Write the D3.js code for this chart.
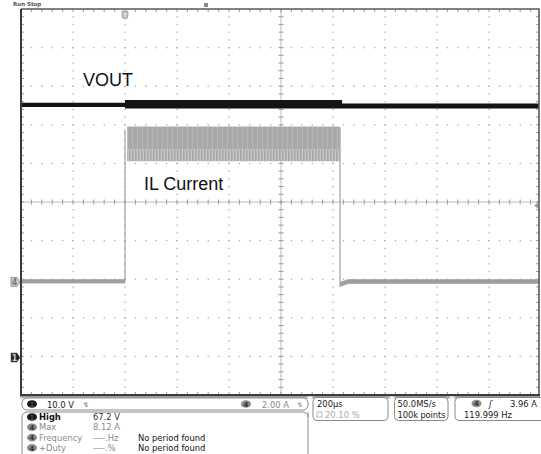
<!DOCTYPE html>
<html><head><meta charset="utf-8">
<script src="https://cdn.jsdelivr.net/npm/d3@7"></script>
<style>body{margin:0;background:#fff}svg{display:block}</style>
</head><body><svg id="c" width="541" height="454"></svg>
<script>
// ---------------- data ----------------
const timePerDivMs = 0.2;
const timeDomain = [-0.4, 1.6];          // ms, trigger at t = 0
const ch1VoltsPerDiv = 10.0, ch1PosDiv = -4.03;
const ch4AmpsPerDiv = 2.0,  ch4PosDiv = -2.07;
const triggerLevelA = 3.96;

const voutTimes = [-0.4, 0.0, 0.0, 0.835, 0.835, 1.6];
const voutHigh  = [66.0, 66.0, 66.7, 66.7, 65.8, 65.8];
const voutLow   = [64.9, 64.9, 64.5, 64.5, 64.5, 64.5];

const ilBaseTimes = [-0.4, 0.0];
const ilBaseHigh  = [0.12, 0.12];
const ilBaseLow   = [-0.06, -0.06];

const ilPulseTimes = [0.008, 0.826];
const ilPulseHigh  = [8.05, 8.05];
const ilPulseCore  = [6.85, 6.85];
const ilPulseLow   = [6.25, 6.25];

const ilTailTimes = [0.828, 0.835, 0.86, 1.6];
const ilTailHigh  = [-0.05, 0.02, 0.12, 0.12];
const ilTailLow   = [-0.25, -0.2, -0.08, -0.08];

const ilEdgeTimes = [0.0, 0.827];
const ilEdgeFrom  = [0.06, 8.0];
const ilEdgeTo    = [7.9, -0.22];

const measLabels   = ["High", "Max", "Frequency", "+Duty"];
const measChannels = [1, 4, 4, 4];
const measValues   = ["67.2 V", "8.12 A", "----.Hz", "----.%"];
const measNotes    = ["", "", "No period found", "No period found"];

// ---------------- layout ----------------
const svg = d3.select("#c");
const FL = 21, FR = 539, FT = 9, FB = 395;
const x = d3.scaleLinear().domain(timeDomain).range([21, 541]);
const yDiv = d3.scaleLinear().domain([-5, 5]).range([FB, FT]);
const yV = d3.scaleLinear()
  .domain([(-5 - ch1PosDiv) * ch1VoltsPerDiv, (5 - ch1PosDiv) * ch1VoltsPerDiv]).range([FB, FT]);
const yA = d3.scaleLinear()
  .domain([(-5 - ch4PosDiv) * ch4AmpsPerDiv, (5 - ch4PosDiv) * ch4AmpsPerDiv]).range([FB, FT]);

const defs = svg.append("defs");
defs.append("clipPath").attr("id", "clip").append("rect")
  .attr("x", FL).attr("y", FT).attr("width", FR - FL).attr("height", FB - FT);
const p1 = defs.append("pattern").attr("id", "rip").attr("patternUnits", "userSpaceOnUse")
  .attr("width", 3).attr("height", 6);
p1.append("rect").attr("width", 3).attr("height", 6).attr("fill", "#c6c6c6");
p1.append("rect").attr("width", 1.6).attr("height", 6).attr("fill", "#a8a8a8");
const p2 = defs.append("pattern").attr("id", "core").attr("patternUnits", "userSpaceOnUse")
  .attr("width", 5).attr("height", 6);
p2.append("rect").attr("width", 5).attr("height", 6).attr("fill", "#a9a9a9");
p2.append("rect").attr("x", 2).attr("width", 1).attr("height", 6).attr("fill", "#b6b6b6");

// ---------------- graticule ----------------
const g = svg.append("g");
const minorX = 52 / 5, minorY = (FB - FT) / 50;
const vLines = d3.range(1, 10).map(i => x(timeDomain[0] + i * timePerDivMs));
const hLines = d3.range(1, 10).map(j => yDiv(j - 5));
const dots = [];
vLines.forEach((vx, i) => { if (i !== 4) d3.range(1, 50).forEach(k => dots.push([vx, FT + k * minorY])); });
hLines.forEach((hy, j) => { if (j !== 4) d3.range(1, 50).forEach(k => dots.push([FL + k * minorX, hy])); });
g.selectAll("rect.dot").data(dots).join("rect").attr("class", "dot")
  .attr("x", d => d[0] - 0.6).attr("y", d => d[1] - 0.6).attr("width", 1.3).attr("height", 1.3)
  .attr("fill", "#adadad");
// center cross lines with ticks
const cx = vLines[4], cy = hLines[4];
g.append("line").attr("x1", FL).attr("x2", FR).attr("y1", cy).attr("y2", cy).attr("stroke", "#bdbdbd");
g.append("line").attr("x1", cx).attr("x2", cx).attr("y1", FT).attr("y2", FB).attr("stroke", "#bdbdbd");
g.selectAll("line.tx").data(d3.range(1, 50)).join("line").attr("class", "tx")
  .attr("x1", k => FL + k * minorX).attr("x2", k => FL + k * minorX)
  .attr("y1", cy - 2.5).attr("y2", cy + 2.5).attr("stroke", "#9a9a9a");
g.selectAll("line.ty").data(d3.range(1, 50)).join("line").attr("class", "ty")
  .attr("y1", k => FT + k * minorY).attr("y2", k => FT + k * minorY)
  .attr("x1", cx - 2.5).attr("x2", cx + 2.5).attr("stroke", "#9a9a9a");
// edge ticks
const et = svg.append("g").attr("stroke", "#9a9a9a");
d3.range(1, 50).forEach(k => {
  et.append("line").attr("x1", FL + k * minorX).attr("x2", FL + k * minorX).attr("y1", FT).attr("y2", FT + 3);
  et.append("line").attr("x1", FL + k * minorX).attr("x2", FL + k * minorX).attr("y1", FB - 3).attr("y2", FB);
  et.append("line").attr("y1", FT + k * minorY).attr("y2", FT + k * minorY).attr("x1", FL).attr("x2", FL + 3);
  et.append("line").attr("y1", FT + k * minorY).attr("y2", FT + k * minorY).attr("x1", FR - 3).attr("x2", FR);
});

// ---------------- traces ----------------
const tr = svg.append("g").attr("clip-path", "url(#clip)");
const areaA = (times, hi, lo) => d3.area().x((d, i) => x(times[i])).y0((d, i) => yA(lo[i])).y1((d, i) => yA(hi[i]))(times);
tr.append("path").attr("d", areaA(ilBaseTimes, ilBaseHigh, ilBaseLow)).attr("fill", "#9e9e9e").attr("stroke", "#a6a6a6").attr("stroke-width", 0.8);
tr.append("path").attr("d", areaA(ilTailTimes, ilTailHigh, ilTailLow)).attr("fill", "#9e9e9e").attr("stroke", "#a6a6a6").attr("stroke-width", 0.8);
tr.append("path").attr("d", areaA(ilPulseTimes, ilPulseCore, ilPulseLow)).attr("fill", "url(#rip)");
tr.append("path").attr("d", areaA(ilPulseTimes, ilPulseHigh, ilPulseCore)).attr("fill", "url(#core)");
tr.selectAll("line.edge").data(ilEdgeTimes).join("line").attr("class", "edge")
  .attr("x1", d => x(d)).attr("x2", d => x(d))
  .attr("y1", (d, i) => yA(ilEdgeFrom[i])).attr("y2", (d, i) => yA(ilEdgeTo[i]))
  .attr("stroke", "#a0a0a0").attr("stroke-width", 1.2);
const areaV = d3.area().x((d, i) => x(voutTimes[i])).y0((d, i) => yV(voutLow[i])).y1((d, i) => yV(voutHigh[i]));
tr.append("path").attr("d", areaV(voutTimes)).attr("fill", "#141414");

// ---------------- frame ----------------
svg.append("path").attr("d", `M${FL},${FT}H${FR}V${FB}`).attr("fill", "none").attr("stroke", "#5a5a5a").attr("stroke-width", 1.6);
svg.append("line").attr("x1", FL).attr("x2", FL).attr("y1", FT).attr("y2", FB).attr("stroke", "#3a3a3a").attr("stroke-width", 2);
svg.append("rect").attr("x", FL - 1).attr("y", FB - 1).attr("width", FR - FL + 2).attr("height", 2.6).attr("fill", "#3c3c3c");
svg.append("rect").attr("x", FL).attr("y", FB + 1.6).attr("width", FR - FL).attr("height", 2).attr("fill", "#b5b5b5");
[310, 392, 452].forEach(px => svg.append("path").attr("d", `M${px - 3},${FB + 1.6}h6l-3,3z`).attr("fill", "#fff"));

// ---------------- markers ----------------
const tx0 = x(0);
svg.append("path").attr("d", `M${tx0 - 3},11v5a3,3 0 0 0 6,0v-5z`).attr("fill", "#bdbdbd").attr("stroke", "#999").attr("stroke-width", 0.6);
svg.append("text").attr("x", tx0).attr("y", 17).attr("text-anchor", "middle").attr("font-family", "DejaVu Sans").attr("font-size", 5).attr("fill", "#fff").text("T");
svg.append("rect").attr("x", 204).attr("y", 3).attr("width", 4).attr("height", 4).attr("fill", "#8a8a8a");
svg.append("text").attr("x", 13).attr("y", 5.5).attr("font-family", "DejaVu Sans").attr("font-size", 5.5).attr("font-weight", "bold").attr("fill", "#555").text("Run Stop");

function chMarker(yy, ch, fill, txt) {
  svg.append("path").attr("d", `M11,${yy - 4.5}h6l3,4.5l-3,4.5h-6z`).attr("fill", fill).attr("stroke", "#666").attr("stroke-width", 0.6);
  svg.append("text").attr("x", 14.5).attr("y", yy + 3).attr("text-anchor", "middle").attr("font-family", "DejaVu Sans")
    .attr("font-size", 8).attr("font-weight", "bold").attr("fill", txt).text(ch);
}
chMarker(yA(0), "4", "#cfcfcf", "#777");
chMarker(yV(0), "1", "#222", "#ccc");
const tl = yA(triggerLevelA);
svg.append("path").attr("d", `M534,${tl}l4,-3v6z`).attr("fill", "#9a9a9a");

// ---------------- labels ----------------
svg.append("text").attr("x", 83).attr("y", 86).attr("font-family", "Liberation Sans, Arial").attr("font-size", 18).attr("fill", "#111").text("VOUT");
svg.append("text").attr("x", 144).attr("y", 189.5).attr("font-family", "Liberation Sans, Arial").attr("font-size", 18).attr("fill", "#111").text("IL Current");

// ---------------- status area ----------------
const st = svg.append("g").attr("font-family", "DejaVu Sans").attr("font-size", 8.4);
function pill(cx0, cy0, ch, dark) {
  st.append("ellipse").attr("cx", cx0).attr("cy", cy0).attr("rx", 5).attr("ry", 3.8).attr("fill", dark ? "#1a1a1a" : "#8c8c8c");
  st.append("text").attr("x", cx0).attr("y", cy0 + 2.6).attr("text-anchor", "middle").attr("font-size", 7).attr("font-weight", "bold")
    .attr("fill", dark ? "#444" : "#333").text(ch);
}
// channel bar
st.append("rect").attr("x", 22).attr("y", 398).attr("width", 286).attr("height", 12).attr("rx", 5).attr("fill", "#fff").attr("stroke", "#8a8a8a");
pill(32, 404, "1", true);
st.append("text").attr("x", 47).attr("y", 407.5).attr("fill", "#1a1a1a").text("10.0 V");
st.append("text").attr("x", 83).attr("y", 407).attr("fill", "#777").attr("font-size", 7).text("↯");
pill(246, 404, "4", false);
st.append("text").attr("x", 262).attr("y", 407.5).attr("fill", "#8a8a8a").text("2.00 A");
st.append("text").attr("x", 297).attr("y", 407).attr("fill", "#888").attr("font-size", 7).text("↯");
// measurement box
st.append("path").attr("d", "M308,412V460M22,460V417a5,5 0 0 1 5,-5H303a5,5 0 0 1 5,5").attr("fill", "none").attr("stroke", "#8a8a8a");
measLabels.forEach((lab, i) => {
  const yy = 417 + i * 10.3;
  const dark = measChannels[i] === 1;
  pill(32, yy, String(measChannels[i]), dark);
  st.append("text").attr("x", 39).attr("y", yy + 3).attr("fill", dark ? "#111" : "#8a8a8a")
    .attr("font-weight", dark ? "bold" : "normal").text(lab);
  st.append("text").attr("x", 93).attr("y", yy + 3).attr("fill", dark ? "#333" : "#8a8a8a").text(measValues[i]);
  st.append("text").attr("x", 138).attr("y", yy + 3).attr("fill", "#111").text(measNotes[i]);
});
// horizontal box
st.append("rect").attr("x", 313).attr("y", 397.5).attr("width", 75).attr("height", 23).attr("rx", 4).attr("fill", "#fff").attr("stroke", "#8a8a8a");
st.append("text").attr("x", 317).attr("y", 407).attr("fill", "#1a1a1a").text("200µs");
st.append("rect").attr("x", 317).attr("y", 412).attr("width", 5).attr("height", 5).attr("fill", "none").attr("stroke", "#aaa").attr("stroke-width", 0.8);
st.append("text").attr("x", 325).attr("y", 418).attr("fill", "#aaa").text("20.10 %");
st.append("rect").attr("x", 394.5).attr("y", 397.5).attr("width", 53.5).attr("height", 23).attr("rx", 4).attr("fill", "#fff").attr("stroke", "#8a8a8a");
st.append("text").attr("x", 397.5).attr("y", 407).attr("fill", "#1a1a1a").text("50.0MS/s");
st.append("text").attr("x", 397.5).attr("y", 418).attr("fill", "#1a1a1a").attr("textLength", 48).text("100k points");
st.append("rect").attr("x", 455).attr("y", 397.5).attr("width", 90).attr("height", 23).attr("rx", 4).attr("fill", "#fff").attr("stroke", "#8a8a8a");
pill(476.5, 403.5, "4", false);
st.append("text").attr("x", 489).attr("y", 407).attr("fill", "#1a1a1a").attr("font-style", "italic").text("ʃ");
st.append("text").attr("x", 537).attr("y", 407).attr("text-anchor", "end").attr("fill", "#1a1a1a").text(triggerLevelA.toFixed(2) + " A");
st.append("text").attr("x", 464).attr("y", 418).attr("fill", "#1a1a1a").text("119.999 Hz");
</script></body></html>
